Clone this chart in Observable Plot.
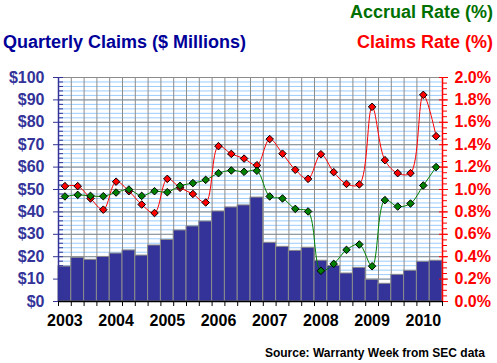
<!DOCTYPE html>
<html>
<head>
<meta charset="utf-8">
<script src="https://cdn.jsdelivr.net/npm/d3@7"></script>
<script src="https://cdn.jsdelivr.net/npm/@observablehq/plot@0.6"></script>
<style>
  html, body { margin: 0; padding: 0; background: #fff; }
  #chart { width: 497px; height: 363px; }
</style>
</head>
<body>
<div id="chart"></div>
<script>
const quarters = ["2003Q1","2003Q2","2003Q3","2003Q4","2004Q1","2004Q2","2004Q3","2004Q4",
  "2005Q1","2005Q2","2005Q3","2005Q4","2006Q1","2006Q2","2006Q3","2006Q4",
  "2007Q1","2007Q2","2007Q3","2007Q4","2008Q1","2008Q2","2008Q3","2008Q4",
  "2009Q1","2009Q2","2009Q3","2009Q4","2010Q1","2010Q2"];
const claims = [15.6,19.5,18.6,19.9,21.4,22.8,20.5,25.0,27.5,31.7,33.5,35.7,40.2,42.0,42.9,46.4,
  26.2,24.4,22.6,24.0,18.2,15.9,12.5,15.0,9.7,7.9,11.9,13.7,17.7,18.2];
const claimsRate = [1.03,1.03,0.92,0.82,1.07,0.985,0.866,0.79,1.095,1.015,0.96,0.884,1.387,1.318,1.276,1.217,
  1.45,1.32,1.176,1.095,1.315,1.155,1.05,1.045,1.738,1.262,1.146,1.146,1.845,1.476];
const accrualRate = [0.938,0.952,0.943,0.94,0.973,1.0,0.943,0.985,0.976,1.033,1.057,1.086,1.146,1.17,1.158,1.167,
  0.938,0.92,0.827,0.804,0.274,0.336,0.461,0.509,0.315,0.905,0.848,0.875,1.036,1.2];
const yearLabels = ["2003","2004","2005","2006","2007","2008","2009","2010"];
const leftTicks = [0,10,20,30,40,50,60,70,80,90,100];
const rightTickLabels = ["0.0%","0.2%","0.4%","0.6%","0.8%","1.0%","1.2%","1.4%","1.6%","1.8%","2.0%"];

const rateToY = 50; // 2.0% maps to $100 on the shared scale
const rows = quarters.map((q, i) => ({q, i, claims: claims[i], cr: claimsRate[i], ar: accrualRate[i]}));
const minorY = d3.range(0, 100.001, 2);
const minorRight = d3.range(0, 100.001, 2.5);
const bounds = d3.range(0, quarters.length + 1).map(i => i - 0.5);
const yearPos = yearLabels.map((y, k) => k * 4);

const FONT = "'Liberation Sans', Arial, sans-serif";
const navy = "#333399";
const green = "#008000";

const plot = Plot.plot({
  width: 497,
  height: 363,
  marginLeft: 58,
  marginRight: 55,
  marginTop: 77,
  marginBottom: 62,
  style: {fontFamily: FONT, fontSize: "16px", fontWeight: "bold", background: "#fff"},
  x: {type: "linear", domain: [-0.5, quarters.length - 0.5], axis: null, label: null},
  y: {domain: [0, 100], axis: null, label: null},
  marks: [
    Plot.ruleY(minorY, {stroke: "#99ccff", strokeWidth: 1}),
    Plot.ruleY(leftTicks, {stroke: "#8c8c8c", strokeWidth: 1}),
    Plot.ruleX(bounds, {stroke: "#8c8c8c", strokeWidth: 1}),
    Plot.rectY(rows, {x1: d => d.i - 0.5, x2: d => d.i + 0.5, y1: 0, y2: "claims", fill: navy, stroke: "#8c8c8c", strokeWidth: 1}),
    Plot.line(rows, {x: "i", y: d => d.cr * rateToY, stroke: "#ff0000", strokeWidth: 1, curve: "catmull-rom"}),
    Plot.line(rows, {x: "i", y: d => d.ar * rateToY, stroke: green, strokeWidth: 1, curve: "catmull-rom"}),
    Plot.dot(rows, {x: "i", y: d => d.cr * rateToY, symbol: "diamond2", r: 3.4, fill: "#ff0000", stroke: "#000", strokeWidth: 1}),
    Plot.dot(rows, {x: "i", y: d => d.ar * rateToY, symbol: "diamond2", r: 3.4, fill: green, stroke: "#000", strokeWidth: 1}),
    // left axis
    Plot.ruleX([-0.5], {stroke: navy, strokeWidth: 1.5}),
    Plot.axisY({anchor: "left", label: null, ticks: leftTicks, tickFormat: d => "$" + d, tickSize: 5, tickPadding: 9,
      color: navy, fontSize: 16, fontWeight: "bold", fontFamily: FONT}),
    Plot.axisY({anchor: "left", label: null, ticks: minorY, text: null, tickSize: -5, color: navy}),
    // right axis
    Plot.ruleX([quarters.length - 0.5], {stroke: "#ff0000", strokeWidth: 1.5}),
    Plot.axisY({anchor: "right", label: null, ticks: leftTicks, tickFormat: d => rightTickLabels[leftTicks.indexOf(d)], tickSize: 5, tickPadding: 7,
      color: "#ff0000", fontSize: 16, fontWeight: "bold", fontFamily: FONT}),
    Plot.axisY({anchor: "right", label: null, ticks: leftTicks, text: null, tickSize: -4, color: "#ff0000"}),
    Plot.axisY({anchor: "right", label: null, ticks: minorRight, text: null, tickSize: 4, color: "#ff0000"}),
    // bottom axis
    Plot.ruleY([0], {stroke: "#000", strokeWidth: 1.5}),
    Plot.axisX({anchor: "bottom", label: null, ticks: bounds, text: null, tickSize: 5, color: "#000"}),
    Plot.axisX({anchor: "bottom", label: null, ticks: yearPos, tickFormat: d => yearLabels[d / 4], tickSize: 0, tickPadding: 13,
      color: "#000", fontSize: 16, fontWeight: "bold", fontFamily: FONT})
  ]
});

document.getElementById("chart").appendChild(plot);

const svg = d3.select(plot);
const addText = (txt, x, y, anchor, color, size) =>
  svg.append("text").text(txt).attr("x", x).attr("y", y).attr("text-anchor", anchor)
    .attr("fill", color).attr("font-family", FONT).attr("font-weight", "bold").attr("font-size", size);
addText("Accrual Rate (%)", 493, 18, "end", "#007000", 18);
addText("Claims Rate (%)", 493, 48, "end", "#ff0000", 18);
addText("Quarterly Claims ($ Millions)", 3, 48, "start", "#000099", 18);
addText("Source: Warranty Week from SEC data", 485, 356.5, "end", "#000", 12);
</script>
</body>
</html>
